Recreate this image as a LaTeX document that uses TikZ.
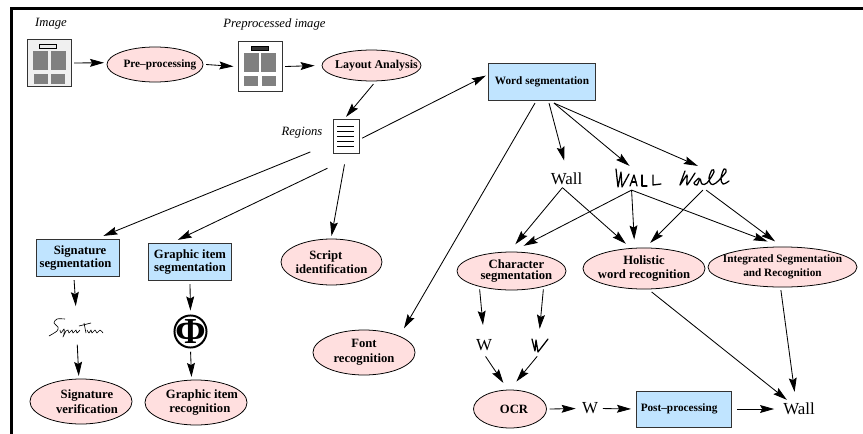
\documentclass[tikz,border=0pt]{standalone}
\usepackage{fontspec}
\setmainfont{Liberation Serif}
\usetikzlibrary{arrows.meta,shapes.geometric}
\definecolor{procpink}{HTML}{FFDFDF}
\definecolor{segblue}{HTML}{C0E4FF}
\newcommand{\sz}[1]{\fontsize{#1}{9.8}\selectfont}
\begin{document}
\begin{tikzpicture}
    [
      x=0.025cm, y=-0.025cm,
      conn/.style={-{Stealth[length=10pt,width=5.6pt,inset=1.5pt]}, line width=0.6pt},
      proc/.style={ellipse, draw, fill=procpink, line width=0.55pt, inner sep=-40pt, outer sep=2.2pt, align=center, font=\sz{9}\bfseries},
      seg/.style={rectangle, draw=black!80, fill=segblue, line width=0.7pt, inner sep=0pt, outer sep=2.2pt, align=center, font=\sz{9}\bfseries},
      tag/.style={font=\sz{9}\itshape, inner sep=0pt},
      page/.style={rectangle, draw=black!80, line width=0.7pt, inner sep=0pt, outer sep=2.2pt},
      block/.style={fill=black!50},
      wordimg/.style={inner sep=0pt, outer sep=1.5pt, minimum height=10pt, font=\sz{12}},
      ink/.style={line width=0.9pt, line cap=round, line join=round},
    ]

    \useasboundingbox (0,0) rectangle (863,434);
    \draw [line width=2pt] (11.3,434) -- (11.3,8.5) -- (863,8.5);

    \node [tag] (imgtag) at (51,24) {Image};
    \node [tag] (pretag) at (274.5,24) {Preprocessed image};
    \node [tag] (regtag) at (302,133) {Regions};

    \node [page, fill=black!6, minimum width=30.6pt, minimum height=34pt] (img) at (49.5,63) {};
    \draw [fill=black!8, line width=0.7pt] (39,44) rectangle (56,48);
    \fill [block] (33,51) rectangle (48,70);
    \fill [block] (51,51) rectangle (66,70);
    \fill [block] (34,74) rectangle (48,84);
    \fill [block] (51,74) rectangle (65,84);

    \node [page, fill=white, minimum width=31.3pt, minimum height=34.9pt] (pre) at (260,66.5) {};
    \draw [fill=black!80, line width=0.7pt] (251,46) rectangle (268,50);
    \fill [block] (244,53) rectangle (259,72);
    \fill [block] (261,53) rectangle (276,72);
    \fill [block] (244,76) rectangle (258,86);
    \fill [block] (262,76) rectangle (276,86);

    \node [page, fill=white, minimum width=18.5pt, minimum height=23.5pt] (regions) at (346,136.5) {};
    \draw [line width=0.7pt] (337,126) -- (354,126);
    \draw [line width=0.7pt] (337,131) -- (354,131);
    \draw [line width=0.7pt] (337,136) -- (354,136);
    \draw [line width=0.7pt] (337,141) -- (354,141);
    \draw [line width=0.7pt] (337,146) -- (354,146);

    \node [proc, minimum width=68.3pt, minimum height=24.9pt, font=\sz{8}\bfseries] (prep) at (155,64.5) {\hspace*{7pt}Pre--processing};
    \node [proc, minimum width=70.4pt, minimum height=22pt, font=\sz{8.5}\bfseries] (layout) at (371.5,65.5) {\hspace*{7pt}Layout Analysis};
    \node [proc, minimum width=71.8pt, minimum height=32.7pt] (script) at (331.5,262) {Script\hspace*{8pt}\\identification};
    \node [proc, minimum width=72.6pt, minimum height=32pt] (font) at (364,352.5) {Font\\[1pt]recognition};
    \node [proc, minimum width=72.6pt, minimum height=32pt] (sigver) at (81,401.5) {\hspace*{8.5pt}Signature\\[1pt]\hspace*{8.5pt}verification};
    \node [proc, minimum width=72.6pt, minimum height=32pt] (grec) at (196,402.5) {\hspace*{8.5pt}Graphic item\\\hspace*{5.5pt}recognition};
    \node [proc, minimum width=77.5pt, minimum height=27pt] (char) at (511.5,271) {\hspace*{7pt}Character\\[-1.5pt]\hspace*{7pt}segmentation};
    \node [proc, minimum width=86.8pt, minimum height=29.2pt] (holistic) at (644,268.5) {Holistic\\word recognition};
    \node [proc, minimum width=106pt, minimum height=28.5pt, font=\sz{8}\bfseries] (integ) at (782.5,267) {Integrated Segmentation\\and Recognition};
    \node [proc, minimum width=51.9pt, minimum height=27pt] (ocr) at (510,409) {\hspace*{5.7pt}OCR};

    \node [seg, minimum width=75.4pt, minimum height=26.3pt, font=\sz{8}\bfseries] (word) at (542,81.5) {Word segmentation};
    \node [seg, minimum width=59.7pt, minimum height=27pt] (sig) at (78,258) {\hspace*{3pt}Signature\\segmentation\hspace*{3.5pt}};
    \node [seg, minimum width=59.7pt, minimum height=27pt] (graphic) at (190,262) {Graphic item\\segmentation};
    \node [seg, minimum width=66.9pt, minimum height=25.6pt, font=\sz{8}\bfseries] (post) at (684,409) {Post--processing\hspace*{7pt}};

    \node [wordimg] (wall) at (566.5,178.5) {Wall};
    \node [wordimg] (letter) at (484,345) {W};
    \node [wordimg] (letterb) at (590,408.5) {W};
    \node [wordimg] (result) at (799,409) {Wall};

    \node [wordimg, minimum width=33.4pt, minimum height=14.2pt] (capswall) at (638,178) {};
    \draw [ink] (616,169) -- (618,187) -- (621,172) -- (622,187) -- (629,174);
    \draw [ink] (630,186) -- (634,175) -- (637,186);
    \draw [ink] (632,182) -- (636,182);
    \draw [ink] (642,175) -- (642,186) -- (647,186);
    \draw [ink] (653,175) -- (653,185) -- (661,184);

    \node [wordimg, minimum width=37pt, minimum height=14.2pt] (handwall) at (704,178) {};
    \draw [ink] plot [smooth, tension=0.3] coordinates {(685,171) (680,185) (687,175) (687,185) (695,173)};
    \draw [ink] plot [smooth, tension=0.6] coordinates {(699,178) (694,183) (697,185) (700,179) (702,184) (707,183) (714,172) (712,170) (709,178) (711,184) (716,183) (726,172) (724,169) (721,178) (723,184) (729,181)};

    \node [wordimg, minimum width=13pt] (handletter) at (539,345) {};
    \draw [ink] (532,339) -- (535,351) -- (536,340) -- (538,352) -- (548,339);

    \node [wordimg, minimum width=40pt, minimum height=13.5pt] (signature) at (77,327.5) {};
    \draw [line width=0.45pt, line join=round] plot [smooth, tension=0.5] coordinates {(65,319) (57,319) (54,323) (58,327) (57,331) (49,336)};
    \draw [line width=0.45pt, line join=round] plot [smooth, tension=0.5] coordinates {(60,330) (61,333) (64,329) (64,334) (63,337) (66,331) (68,330) (69,333) (72,330) (73,333) (76,330) (77,333) (80,330)};
    \draw [line width=0.45pt] (84,323) -- (86,333);
    \draw [line width=0.45pt] (79,326) -- (91,323);
    \draw [line width=0.45pt, line join=round] plot [smooth, tension=0.5] coordinates {(87,330) (89,333) (91,330) (92,333) (95,330) (97,333) (100,330) (103,333)};

    \node [circle, draw, line width=1.4pt, inner sep=-3pt, outer sep=1.5pt, minimum size=22.8pt, font=\fontsize{26}{26}\selectfont\bfseries] (phi) at (190.5,331.5) {Φ};

    \draw [conn] (img.east) -- (prep.178);
    \draw [conn, shorten >=1pt] (prep.east) -- (pre.west);
    \draw [conn, shorten >=3pt] (pre.east) -- (layout.west);
    \draw [conn] (layout.-84) -- (regions.north);
    \draw [conn] (regions.-6) -- (word.174);
    \draw [conn, shorten <=15pt] (regions.205) -- (sig.41);
    \draw [conn, shorten <=20pt] (regions.-71) -- (graphic.119);
    \draw [conn, shorten <=6pt] (regions.south) -- (script.north);
    \draw [conn, shorten >=4.5pt] (word.-108) -- (font.27);
    \draw [conn, shorten >=6.4pt] (word.-72) -- (wall.north);
    \draw [conn] (word.-61) -- (capswall.125);
    \draw [conn] (word.-61) -- (handwall.117);
    \draw [conn, shorten >=4.3pt] (wall.-114) -- (char.north);
    \draw [conn, shorten >=2pt] (wall.-114) -- (holistic.125);
    \draw [conn, shorten >=5pt] (capswall.-118) -- (char.75);
    \draw [conn, shorten >=4pt] (capswall.-118) -- (holistic.112);
    \draw [conn, shorten >=5pt] (capswall.-118) -- (integ.110);
    \draw [conn, shorten >=2pt] (handwall.-95) -- (holistic.80);
    \draw [conn, shorten >=3pt] (handwall.-80) -- (integ.100);
    \draw [conn, shorten >=7.8pt] (char.-150) -- (letter.north);
    \draw [conn, shorten >=5pt] (char.-30) -- (handletter.north);
    \draw [conn, shorten >=3.5pt, shorten <=2pt] (letter.south) -- (ocr.100);
    \draw [conn, shorten >=5pt, shorten <=2pt] (handletter.south) -- (ocr.85);
    \draw [conn, shorten >=3pt] (ocr.east) -- (letterb.west);
    \draw [conn, shorten >=2pt, shorten <=2pt] (letterb.east) -- (post.west);
    \draw [conn, shorten >=5pt, shorten <=2pt] (post.east) -- (result.west);
    \draw [conn] (holistic.-72) -- (result.143);
    \draw [conn, shorten >=5.7pt] (integ.-94) -- (result.110);
    \draw [conn, shorten >=7pt] (sig.-100) -- (signature.93);
    \draw [conn, shorten <=4pt] (signature.south) -- (sigver.95);
    \draw [conn, shorten >=2pt] (graphic.south) -- (phi.north);
    \draw [conn, shorten <=1.5pt] (phi.south) -- (grec.100);
  \end{tikzpicture}
\end{document}
